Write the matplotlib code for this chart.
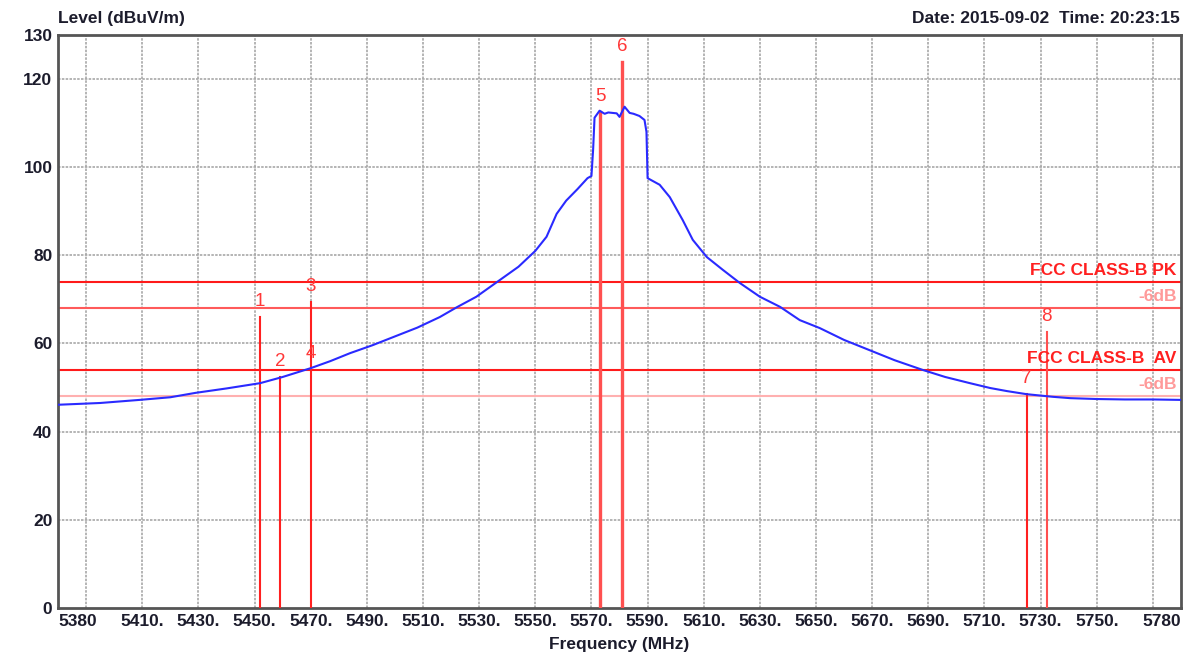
import matplotlib
matplotlib.use('Agg')
import matplotlib.pyplot as plt

# measured trace (MHz, dBuV/m)
freq = [5380, 5395, 5409, 5420, 5429, 5440, 5452, 5460, 5470, 5477, 5484, 5492, 5500,
        5508, 5516, 5522, 5529, 5536.5, 5544, 5550, 5554, 5557.6, 5561, 5565, 5568.6, 5570,
        5570.6, 5571.1, 5572.9, 5574.7, 5576, 5577.5, 5579, 5580, 5581.8, 5583.6, 5585, 5587.1,
        5588.9, 5589.6, 5590, 5594.3, 5597.9, 5602.5, 5606.1, 5611.1, 5616.8, 5622.9, 5630,
        5637.2, 5644.2, 5651.3, 5660, 5669, 5678, 5688, 5696, 5704.8, 5712, 5718, 5725,
        5734.4, 5740.5, 5750, 5760, 5770, 5780]
level = [46.1, 46.5, 47.2, 47.8, 48.8, 49.8, 51.0, 52.4, 54.4, 56.0, 57.8, 59.6, 61.6,
         63.6, 66.0, 68.2, 70.6, 74.0, 77.4, 81.0, 84.2, 89.4, 92.4, 95.0, 97.5, 98.0,
         104.0, 111.2, 112.8, 112.1, 112.4, 112.3, 112.2, 111.4, 113.7, 112.3, 112.1, 111.6,
         110.7, 108.0, 97.5, 96.0, 93.2, 88.0, 83.5, 79.6, 76.7, 73.7, 70.6,
         68.3, 65.3, 63.5, 60.8, 58.5, 56.2, 54.0, 52.4, 51.0, 49.9, 49.2, 48.5,
         47.9, 47.6, 47.4, 47.3, 47.3, 47.2]

# markers
marker_no = ['1', '2', '3', '4', '5', '6', '7', '8']
marker_freq = [5452.0, 5459.2, 5470.0, 5470.0, 5573.1, 5581.0, 5725.0, 5732.1]
marker_level = [66.1, 52.4, 69.4, 54.4, 112.6, 123.9, 48.6, 62.6]

# limit lines
limit_values = [74, 68, 54, 48]
limit_names = ['FCC CLASS-B PK', '-6dB', 'FCC CLASS-B  AV', '-6dB']
limit_colors = ['#ff1a1a', '#ff5a5a', '#ff1a1a', '#ffb0b0']
limit_text_colors = ['#ff2020', '#ff9a9a', '#ff2020', '#ff9a9a']

grid_freqs = list(range(5390, 5771, 20))
y_ticks = [0, 20, 40, 60, 80, 100, 120, 130]

plt.rcParams['font.family'] = ['Liberation Sans', 'DejaVu Sans']
dark = '#1c1c2c'

fig = plt.figure(figsize=(12.04, 6.58), dpi=100)
ax = fig.add_axes([0.0482, 0.076, 0.9327, 0.871])

ax.set_xlim(5380, 5780)
ax.set_ylim(0, 130)

# grid
for f in grid_freqs:
    ax.axvline(f, color='#a8a8a8', lw=1.2, ls=(0, (1.5, 0.8)), zorder=1)
for v in [20, 40, 60, 80, 100, 120]:
    ax.axhline(v, color='#a8a8a8', lw=1.2, ls=(0, (1.5, 0.8)), zorder=1)

# limits
for v, name, c, tc in zip(limit_values, limit_names, limit_colors, limit_text_colors):
    ax.axhline(v, color=c, lw=1.5, zorder=2)
    ax.annotate(name, xy=(1.0, v), xycoords=('axes fraction', 'data'),
                xytext=(-3, 3), textcoords='offset points', ha='right', va='bottom',
                color=tc, fontsize=12.5, fontweight='bold', zorder=5)

# trace
ax.plot(freq, level, color='#2a2aff', lw=1.5, zorder=4)

# marker lines
for no, f, lv in zip(marker_no, marker_freq, marker_level):
    ax.text(f, lv + 1.5, no, color='#ff3838', fontsize=13.5, ha='center', va='bottom', zorder=5)
    if no == '4':
        continue
    w = 2.4 if no in ('5', '6') else 1.5
    c = '#ff5050' if no in ('5', '6', '8') else '#ff2020'
    ax.plot([f, f], [0, lv], color=c, lw=w, zorder=3)

# ticks
xt = [5380] + grid_freqs + [5780]
xl = ['5380'] + [''] + [f'{g}.' for g in grid_freqs[1:-1]] + [''] + ['5780']
ax.set_xticks(xt)
ax.set_xticklabels(xl, fontsize=12.5, fontweight='bold', color=dark)
ax.get_xticklabels()[0].set_ha('left')
ax.get_xticklabels()[-1].set_ha('right')
ax.set_yticks(y_ticks)
ax.set_yticklabels([str(v) for v in y_ticks], fontsize=12.5, fontweight='bold', color=dark)
ax.tick_params(length=0, pad=4)

for s in ax.spines.values():
    s.set_color('#555555')
    s.set_linewidth(2)

ax.set_xlabel('Frequency (MHz)', fontsize=12.5, fontweight='bold', color=dark, labelpad=6)
fig.text(0.048, 0.972, 'Level (dBuV/m)', fontsize=12.5, fontweight='bold', color=dark,
         ha='left', va='center')
fig.text(0.98, 0.972, 'Date: 2015-09-02  Time: 20:23:15', fontsize=12.5, fontweight='bold',
         color=dark, ha='right', va='center')

fig.savefig('out.png', dpi=100, facecolor='white')
